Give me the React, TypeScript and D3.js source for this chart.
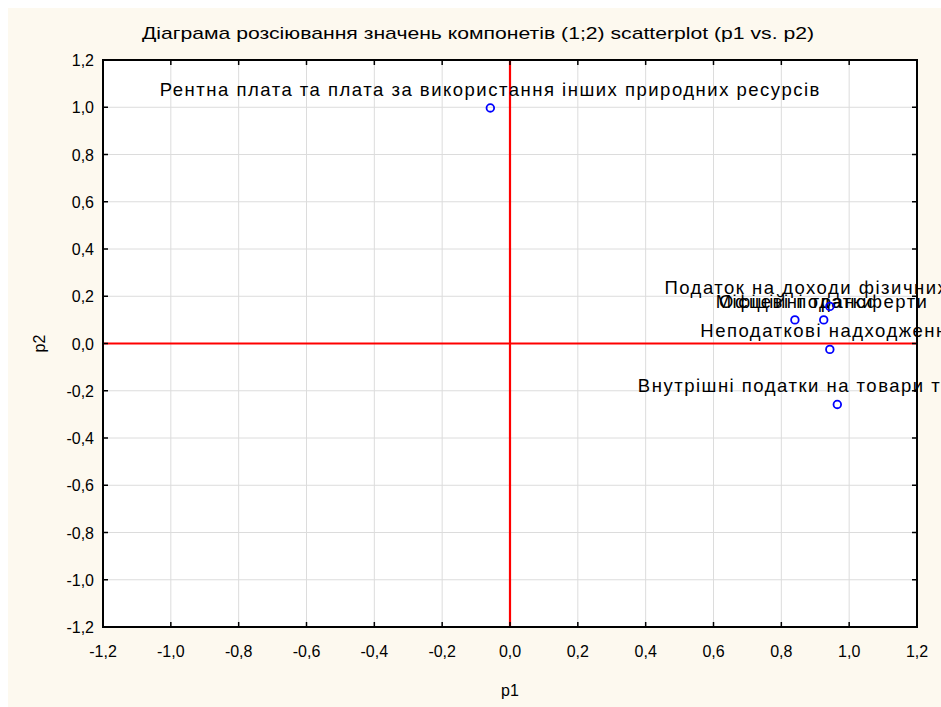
import React, { useEffect, useRef } from "react";
import * as d3 from "d3";

const title = "Діаграма розсіювання значень компонетів (1;2) scatterplot (p1 vs. p2)";
const xLabel = "p1";
const yLabel = "p2";

const names = [
  "Рентна плата та плата за використання інших природних ресурсів",
  "Податок на доходи фізичних осіб",
  "Місцеві податки",
  "Офіційні трансферти",
  "Неподаткові надходження",
  "Внутрішні податки на товари та послуги",
];
const p1 = [-0.058, 0.943, 0.84, 0.925, 0.943, 0.965];
const p2 = [0.997, 0.157, 0.1, 0.1, -0.025, -0.258];

const ticks = [-1.2, -1.0, -0.8, -0.6, -0.4, -0.2, 0.0, 0.2, 0.4, 0.6, 0.8, 1.0, 1.2];

const fmt = (v: number) => v.toFixed(1).replace(".", ",").replace("-0,0", "0,0");

function draw(el: SVGSVGElement) {
  const width = 941;
  const height = 707;
  const margin = { top: 60, right: 24, bottom: 80, left: 103 };

  const svg = d3.select(el);
  svg.selectAll("*").remove();

  const x = d3.scaleLinear().domain([-1.2, 1.2]).range([margin.left, width - margin.right]);
  const y = d3.scaleLinear().domain([-1.2, 1.2]).range([height - margin.bottom, margin.top]);

  // cream background
  svg.append("rect")
    .attr("x", 8).attr("y", 8)
    .attr("width", width - 8).attr("height", height - 8)
    .attr("fill", "#fdf9ef");

  svg.append("rect")
    .attr("x", x(-1.2)).attr("y", y(1.2))
    .attr("width", x(1.2) - x(-1.2)).attr("height", y(-1.2) - y(1.2))
    .attr("fill", "#ffffff");

  // grid
  const grid = svg.append("g").attr("stroke", "#dcdcdc").attr("stroke-width", 1);
  grid.selectAll(".gx").data(ticks.slice(1, -1)).enter().append("line")
    .attr("x1", (d) => x(d)).attr("x2", (d) => x(d))
    .attr("y1", y(1.2)).attr("y2", y(-1.2));
  grid.selectAll(".gy").data(ticks.slice(1, -1)).enter().append("line")
    .attr("y1", (d) => y(d)).attr("y2", (d) => y(d))
    .attr("x1", x(-1.2)).attr("x2", x(1.2));

  // zero lines
  svg.append("line")
    .attr("x1", x(0)).attr("x2", x(0)).attr("y1", y(1.2)).attr("y2", y(-1.2))
    .attr("stroke", "#ff0000").attr("stroke-width", 2.2);
  svg.append("line")
    .attr("y1", y(0)).attr("y2", y(0)).attr("x1", x(-1.2)).attr("x2", x(1.2))
    .attr("stroke", "#ff0000").attr("stroke-width", 2.2);

  // frame
  svg.append("rect")
    .attr("x", x(-1.2)).attr("y", y(1.2))
    .attr("width", x(1.2) - x(-1.2)).attr("height", y(-1.2) - y(1.2))
    .attr("fill", "none").attr("stroke", "#000").attr("stroke-width", 2);

  // inward ticks
  const tk = svg.append("g").attr("stroke", "#000").attr("stroke-width", 1.5);
  ticks.forEach((t) => {
    tk.append("line").attr("x1", x(t)).attr("x2", x(t)).attr("y1", y(-1.2)).attr("y2", y(-1.2) - 5);
    tk.append("line").attr("x1", x(t)).attr("x2", x(t)).attr("y1", y(1.2)).attr("y2", y(1.2) + 5);
    tk.append("line").attr("y1", y(t)).attr("y2", y(t)).attr("x1", x(-1.2)).attr("x2", x(-1.2) + 5);
    tk.append("line").attr("y1", y(t)).attr("y2", y(t)).attr("x1", x(1.2)).attr("x2", x(1.2) - 5);
  });

  const font = "Liberation Sans, Arial, sans-serif";

  svg.selectAll(".xt").data(ticks).enter().append("text")
    .attr("x", (d) => x(d)).attr("y", y(-1.2) + 30)
    .attr("text-anchor", "middle")
    .style("font-family", font).style("font-size", "16px")
    .text((d) => fmt(d));

  svg.selectAll(".yt").data(ticks).enter().append("text")
    .attr("x", x(-1.2) - 9).attr("y", (d) => y(d) + 6)
    .attr("text-anchor", "end")
    .style("font-family", font).style("font-size", "16px")
    .text((d) => fmt(d));

  svg.append("text")
    .attr("x", x(0)).attr("y", 696)
    .attr("text-anchor", "middle")
    .style("font-family", font).style("font-size", "16px")
    .text(xLabel);

  svg.append("text")
    .attr("transform", `translate(45,${y(0)}) rotate(-90)`)
    .attr("text-anchor", "middle")
    .style("font-family", font).style("font-size", "16px")
    .text(yLabel);

  svg.append("text")
    .attr("x", 478).attr("y", 39)
    .attr("text-anchor", "middle")
    .attr("textLength", 672).attr("lengthAdjust", "spacingAndGlyphs")
    .style("font-family", font).style("font-size", "17px")
    .text(title);

  // point labels
  svg.selectAll(".lbl").data(names).enter().append("text")
    .attr("x", (d, i) => x(p1[i])).attr("y", (d, i) => y(p2[i]) - 12)
    .attr("text-anchor", "middle")
    .style("font-family", font).style("font-size", "18.5px")
    .style("letter-spacing", "1.5px")
    .text((d) => d);

  svg.selectAll(".pt").data(names).enter().append("circle")
    .attr("cx", (d, i) => x(p1[i])).attr("cy", (d, i) => y(p2[i]))
    .attr("r", 3.8)
    .attr("fill", "none").attr("stroke", "#0000ff").attr("stroke-width", 1.8);
}

export default function App() {
  const ref = useRef<SVGSVGElement>(null);
  useEffect(() => {
    if (ref.current) draw(ref.current);
  });
  return (
    <div style={{ position: "fixed", left: 0, top: 0, width: 941, height: 707, overflow: "hidden", background: "#fff" }}>
      <svg ref={ref} width={941} height={707} style={{ display: "block" }}></svg>
    </div>
  );
}
